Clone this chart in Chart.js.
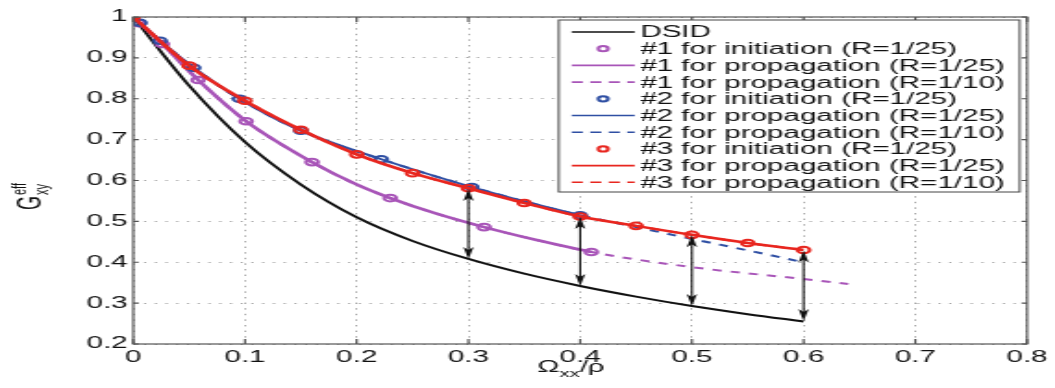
<!DOCTYPE html>
<html lang="en">
<head>
  <meta charset="UTF-8" />
  <meta name="viewport" content="width=device-width, initial-scale=1.0" />
  <title>Effective shear modulus vs damage</title>
  <script src="https://cdn.jsdelivr.net/npm/chart.js"></script>
  <style>
    html, body {
      margin: 0;
      padding: 0;
      background: #fff;
      overflow: hidden;
    }
    /* the source figure is stretched sideways, so draw it narrow and scale it up */
    #wrap {
      width: 570px;
      height: 388px;
      transform: scaleX(1.8509);
      transform-origin: 0 0;
    }
  </style>
</head>
<body>
  <div id="wrap"><canvas id="chart"></canvas></div>

  <script>
    // DSID reference curve
    const dsidX = [0, 0.05, 0.1, 0.15, 0.2, 0.25, 0.3, 0.35, 0.4, 0.45, 0.5, 0.55, 0.6];
    const dsidY = [1.0, 0.832, 0.694, 0.59, 0.51, 0.452, 0.408, 0.372, 0.342, 0.316, 0.293, 0.273, 0.255];

    // #1 (purple)
    const p1InitX = [0.005, 0.026, 0.058, 0.101, 0.16, 0.23, 0.314, 0.41];
    const p1InitY = [0.985, 0.934, 0.846, 0.745, 0.645, 0.557, 0.486, 0.425];
    const p1LineX = [0, 0.026, 0.058, 0.101, 0.16, 0.2, 0.23, 0.27, 0.314, 0.36, 0.41];
    const p1LineY = [1.0, 0.934, 0.846, 0.745, 0.645, 0.59, 0.557, 0.52, 0.486, 0.455, 0.425];
    const p1DashX = [0, 0.026, 0.058, 0.101, 0.16, 0.2, 0.23, 0.27, 0.314, 0.36, 0.41, 0.5, 0.6, 0.64];
    const p1DashY = [1.0, 0.934, 0.846, 0.745, 0.645, 0.59, 0.557, 0.52, 0.486, 0.455, 0.425, 0.388, 0.359, 0.347];

    // #2 (blue)
    const p2InitX = [0.006, 0.024, 0.054, 0.095, 0.15, 0.222, 0.303, 0.4];
    const p2InitY = [0.986, 0.942, 0.876, 0.8, 0.722, 0.652, 0.584, 0.515];
    const p2LineX = [0, 0.024, 0.054, 0.095, 0.15, 0.222, 0.303, 0.35, 0.4];
    const p2LineY = [1.0, 0.942, 0.876, 0.8, 0.722, 0.652, 0.584, 0.549, 0.515];
    const p2DashX = [0, 0.024, 0.054, 0.095, 0.15, 0.222, 0.303, 0.35, 0.4, 0.45, 0.5, 0.55, 0.6];
    const p2DashY = [1.0, 0.942, 0.876, 0.8, 0.722, 0.652, 0.584, 0.549, 0.515, 0.486, 0.457, 0.429, 0.4];

    // #3 (red) - markers and both lines share the same points
    const p3X = [0, 0.05, 0.1, 0.15, 0.2, 0.25, 0.3, 0.35, 0.4, 0.45, 0.5, 0.55, 0.6];
    const p3Y = [1.0, 0.881, 0.795, 0.724, 0.664, 0.618, 0.581, 0.545, 0.512, 0.489, 0.467, 0.447, 0.43];

    // double arrows between DSID and #3
    const arrowX = [0.3, 0.4, 0.5, 0.6];
    const arrowLow = [0.408, 0.342, 0.293, 0.256];
    const arrowHigh = [0.579, 0.511, 0.466, 0.429];

    const xTicks = [0, 0.1, 0.2, 0.3, 0.4, 0.5, 0.6, 0.7, 0.8];
    const yTicks = [0.2, 0.3, 0.4, 0.5, 0.6, 0.7, 0.8, 0.9, 1];

    const PURPLE = '#a855b8';
    const BLUE = '#2f4fa3';
    const RED = '#e8261f';
    const FONT = '"Liberation Sans", Arial, sans-serif';

    const pts = (xs, ys) => xs.map((x, i) => ({ x: x, y: ys[i] }));

    function lineSet(label, xs, ys, color, width, dash, order) {
      return {
        label: label, data: pts(xs, ys), showLine: true,
        borderColor: color, borderWidth: width, borderDash: dash,
        pointRadius: 0, cubicInterpolationMode: 'monotone', order: order
      };
    }
    function markerSet(label, xs, ys, color, order) {
      return {
        label: label, data: pts(xs, ys), showLine: false,
        borderColor: color, backgroundColor: 'rgba(0,0,0,0)',
        pointStyle: 'circle', pointRadius: 3.3, pointBorderWidth: 2, order: order
      };
    }

    const datasets = [
      lineSet('DSID', dsidX, dsidY, '#111', 2, [], 9),
      markerSet('#1 for initiation (R=1/25)', p1InitX, p1InitY, PURPLE, 6),
      lineSet('#1 for propagation (R=1/25)', p1LineX, p1LineY, PURPLE, 2.6, [], 7),
      lineSet('#1 for propagation (R=1/10)', p1DashX, p1DashY, PURPLE, 2, [5, 5], 8),
      markerSet('#2 for initiation (R=1/25)', p2InitX, p2InitY, BLUE, 3),
      lineSet('#2 for propagation (R=1/25)', p2LineX, p2LineY, BLUE, 2, [], 4),
      lineSet('#2 for propagation (R=1/10)', p2DashX, p2DashY, BLUE, 2, [5, 5], 5),
      markerSet('#3 for initiation (R=1/25)', p3X, p3Y, RED, 0),
      lineSet('#3 for propagation (R=1/25)', p3X, p3Y, RED, 2.6, [], 1),
      lineSet('#3 for propagation (R=1/10)', p3X, p3Y, RED, 2, [5, 5], 2)
    ];

    // box, inward ticks, arrows, axis titles and the legend
    const figurePlugin = {
      id: 'figure',
      afterDatasetsDraw(chart) {
        const ctx = chart.ctx;
        const xs = chart.scales.x, ys = chart.scales.y;
        ctx.save();
        ctx.strokeStyle = '#111';
        ctx.fillStyle = '#111';
        ctx.lineWidth = 1.1;
        arrowX.forEach((v, i) => {
          const px = xs.getPixelForValue(v);
          const y1 = ys.getPixelForValue(arrowHigh[i]);
          const y2 = ys.getPixelForValue(arrowLow[i]);
          ctx.beginPath();
          ctx.moveTo(px, y1 + 4);
          ctx.lineTo(px, y2 - 4);
          ctx.stroke();
          ctx.beginPath();
          ctx.moveTo(px, y1);
          ctx.lineTo(px - 2.8, y1 + 12);
          ctx.lineTo(px, y1 + 9);
          ctx.lineTo(px + 2.8, y1 + 12);
          ctx.closePath();
          ctx.fill();
          ctx.beginPath();
          ctx.moveTo(px, y2);
          ctx.lineTo(px - 2.8, y2 - 12);
          ctx.lineTo(px, y2 - 9);
          ctx.lineTo(px + 2.8, y2 - 12);
          ctx.closePath();
          ctx.fill();
        });
        ctx.restore();
      },
      afterDraw(chart) {
        const ctx = chart.ctx;
        const a = chart.chartArea;
        const xs = chart.scales.x, ys = chart.scales.y;
        ctx.save();

        // axes box
        ctx.strokeStyle = '#555';
        ctx.lineWidth = 1.2;
        ctx.strokeRect(a.left, a.top, a.right - a.left, a.bottom - a.top);
        ctx.beginPath();
        xTicks.forEach(v => {
          const px = xs.getPixelForValue(v);
          ctx.moveTo(px, a.bottom); ctx.lineTo(px, a.bottom - 5);
          ctx.moveTo(px, a.top); ctx.lineTo(px, a.top + 5);
        });
        yTicks.forEach(v => {
          const py = ys.getPixelForValue(v);
          ctx.moveTo(a.left, py); ctx.lineTo(a.left + 3, py);
          ctx.moveTo(a.right, py); ctx.lineTo(a.right - 3, py);
        });
        ctx.stroke();

        // legend
        const bw = 249, bh = 172;
        const bx = a.right - 4 - bw, by = a.top + 3;
        ctx.fillStyle = '#fff';
        ctx.fillRect(bx, by, bw, bh);
        ctx.strokeStyle = '#444';
        ctx.lineWidth = 1;
        ctx.strokeRect(bx, by, bw, bh);
        ctx.font = '16px ' + FONT;
        ctx.textBaseline = 'middle';
        chart.data.datasets.forEach((ds, i) => {
          const ry = by + 12 + i * 16.7;
          ctx.strokeStyle = ds.borderColor;
          if (ds.showLine) {
            ctx.lineWidth = 1.6;
            ctx.setLineDash(ds.borderDash.length ? [6, 4] : []);
            ctx.beginPath();
            ctx.moveTo(bx + 7, ry);
            ctx.lineTo(bx + 41, ry);
            ctx.stroke();
            ctx.setLineDash([]);
          } else {
            ctx.lineWidth = 2;
            ctx.beginPath();
            ctx.arc(bx + 24, ry, 2.6, 0, Math.PI * 2);
            ctx.stroke();
          }
          ctx.fillStyle = '#111';
          ctx.fillText(ds.label, bx + 44, ry + 1);
        });

        // x axis title: Omega_xx / rho
        ctx.fillStyle = '#111';
        ctx.textBaseline = 'alphabetic';
        ctx.font = '16px ' + FONT;
        const wO = ctx.measureText('\u03A9').width;
        const wR = ctx.measureText('/\u03C1').width;
        ctx.font = '11px ' + FONT;
        const wS = ctx.measureText('xx').width;
        const tx = (a.left + a.right) / 2 - 5 - (wO + wS + wR) / 2;
        const tb = 372;
        ctx.font = '16px ' + FONT;
        ctx.fillText('\u03A9', tx, tb);
        ctx.font = '11px ' + FONT;
        ctx.fillText('xx', tx + wO, tb + 5);
        ctx.font = '16px ' + FONT;
        ctx.fillText('/\u03C1', tx + wO + wS, tb);

        // y axis title: G^eff_xy
        ctx.translate(22, 210);
        ctx.rotate(-Math.PI / 2);
        ctx.font = '18px ' + FONT;
        ctx.fillText('G', 0, 0);
        const wG = ctx.measureText('G').width;
        ctx.font = '11px ' + FONT;
        ctx.fillText('eff', wG + 1, -8);
        ctx.fillText('xy', wG + 1, 4);
        ctx.restore();
      }
    };

    Chart.defaults.font.family = FONT;
    Chart.defaults.color = '#111';

    new Chart(document.getElementById('chart').getContext('2d'), {
      type: 'scatter',
      data: { datasets: datasets },
      options: {
        responsive: true,
        maintainAspectRatio: false,
        animation: false,
        layout: { padding: { top: 17, right: 12, left: 0, bottom: 0 } },
        plugins: {
          legend: { display: false },
          tooltip: { enabled: false }
        },
        scales: {
          x: {
            type: 'linear',
            min: 0,
            max: 0.8,
            afterBuildTicks: s => { s.ticks = xTicks.map(v => ({ value: v })); },
            afterFit: s => { s.height = 44; },
            ticks: {
              autoSkip: false,
              maxRotation: 0,
              padding: 4,
              font: { size: 16 },
              callback: v => String(+v.toFixed(1))
            },
            grid: { color: '#a8a8a8', lineWidth: 1, drawTicks: false },
            border: { display: false, dash: [1.4, 4.2] }
          },
          y: {
            type: 'linear',
            min: 0.2,
            max: 1,
            afterBuildTicks: s => { s.ticks = yTicks.map(v => ({ value: v })); },
            afterFit: s => { s.width = 72; },
            ticks: {
              autoSkip: false,
              padding: 3,
              font: { size: 16 },
              callback: v => String(+v.toFixed(1))
            },
            grid: { color: '#a8a8a8', lineWidth: 1, drawTicks: false },
            border: { display: false, dash: [1.2, 4.6] }
          }
        }
      },
      plugins: [figurePlugin]
    });
  </script>
</body>
</html>
